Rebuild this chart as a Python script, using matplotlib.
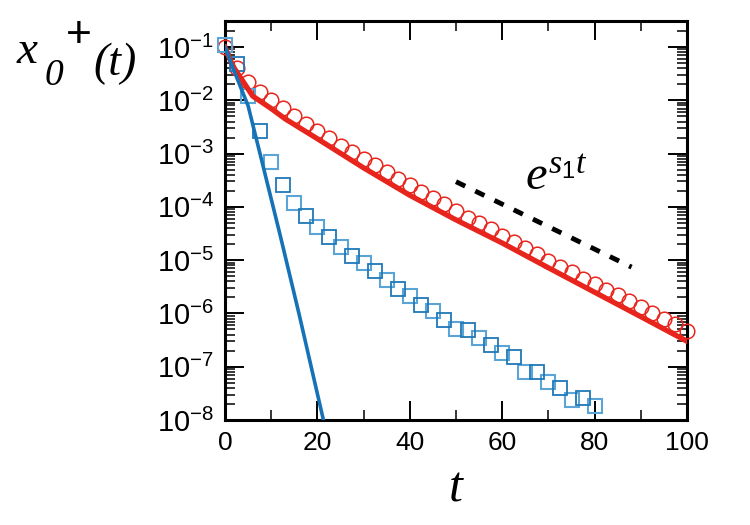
import numpy as np
import matplotlib
matplotlib.use("Agg")
import matplotlib.pyplot as plt
from matplotlib.ticker import LogLocator, MultipleLocator, FuncFormatter, NullFormatter

plt.rcParams['font.family'] = 'Liberation Sans'
plt.rcParams['mathtext.fontset'] = 'custom'
plt.rcParams['mathtext.rm'] = 'Liberation Sans'
plt.rcParams['mathtext.it'] = 'Liberation Serif:italic'

# ---------------- data ----------------
# red circles: simulation, t = 0 ... 100
t_circ = [0, 2.5, 5, 7.5, 10, 12.5, 15, 17.5, 20, 22.5, 25, 27.5, 30, 32.5, 35,
          37.5, 40, 42.5, 45, 47.5, 50, 52.5, 55, 57.5, 60, 62.5, 65, 67.5, 70,
          72.5, 75, 77.5, 80, 82.5, 85, 87.5, 90, 92.5, 95, 97.5, 100]
x_circ = [1.0e-1, 4.0e-2, 2.2e-2, 1.45e-2, 1.02e-2, 7.1e-3, 5.1e-3, 3.6e-3,
          2.6e-3, 1.94e-3, 1.41e-3, 1.05e-3, 7.8e-4, 6.1e-4, 4.6e-4, 3.3e-4,
          2.6e-4, 1.94e-4, 1.45e-4, 1.13e-4, 8.5e-5, 6.3e-5, 4.9e-5, 3.8e-5,
          2.8e-5, 2.2e-5, 1.67e-5, 1.29e-5, 9.6e-6, 7.4e-6, 5.9e-6, 4.5e-6,
          3.5e-6, 2.7e-6, 2.2e-6, 1.7e-6, 1.33e-6, 1.0e-6, 7.8e-7, 6.2e-7, 4.7e-7]

# red line: theory
t_red = [0, 1, 2, 4, 6, 10, 13, 20, 30, 40, 50, 60, 70, 80, 90, 100]
x_red = [1.0e-1, 6.0e-2, 4.0e-2, 2.2e-2, 1.2e-2, 7.0e-3, 4.5e-3, 1.9e-3,
         5.4e-4, 1.65e-4, 5.7e-5, 2.1e-5, 7.2e-6, 2.5e-6, 8.7e-7, 3.0e-7]

# blue squares: simulation, t = 0 ... 80 (two shades)
t_sq_light = [0, 5, 10, 15, 20, 25, 30, 35, 40, 45, 50, 55, 60, 65, 70, 75, 80]
x_sq_light = [1.1e-1, 1.2e-2, 7.1e-4, 1.2e-4, 4.2e-5, 1.8e-5, 8.7e-6, 4.2e-6,
              2.1e-6, 1.12e-6, 5.1e-7, 3.4e-7, 1.8e-7, 8.1e-8, 5.2e-8, 2.4e-8, 1.8e-8]
t_sq_dark = [2.5, 7.5, 12.5, 17.5, 22.5, 27.5, 32.5, 37.5, 42.5, 47.5, 52.5,
             57.5, 62.5, 67.5, 72.5, 77.5]
x_sq_dark = [4.9e-2, 2.7e-3, 2.6e-4, 6.8e-5, 2.7e-5, 1.2e-5, 6.3e-6, 2.9e-6,
             1.45e-6, 7.6e-7, 4.8e-7, 2.6e-7, 1.5e-7, 7.8e-8, 4.0e-8, 2.6e-8]

# blue line: theory
t_blue = [0, 2, 5, 8, 12, 16, 21.3]
x_blue = [1.0e-1, 3.5e-2, 7.9e-3, 7.1e-4, 2.8e-5, 1.0e-6, 1.0e-8]

# dashed guide e^{s1 t}
t_guide = [50, 88]
x_guide = [2.97e-4, 7.4e-6]

red = '#e8251c'
blue_line = '#1672b6'
blue_light = '#5ba4d6'
blue_dark = '#1f78b8'

# ---------------- figure ----------------
fig = plt.figure(figsize=(7.5, 5.25), dpi=100)
ax = fig.add_axes([0.30, 0.20, 0.616, 0.76])

ax.plot(t_circ, x_circ, 'o', ms=10.5, mfc='none', mec=red, mew=1.1, clip_on=False, zorder=3)
ax.plot(t_sq_light, x_sq_light, 's', ms=10.5, mfc='none', mec=blue_light, mew=1.5, clip_on=False, zorder=3)
ax.plot(t_sq_dark, x_sq_dark, 's', ms=10.5, mfc='none', mec=blue_dark, mew=1.3, clip_on=False, zorder=3)
ax.plot(t_red, x_red, '-', color=red, lw=3.8, zorder=4)
ax.plot(t_blue, x_blue, '-', color=blue_line, lw=2.6, zorder=5)
ax.plot(t_guide, x_guide, color='black', lw=3.5, dashes=(2.1, 2.3), zorder=4)

ax.text(65.0, 2.2e-4, r'$\mathit{e^{s_1 t}}$', fontsize=35, va='baseline')

ax.set_yscale('log')
ax.set_xlim(0, 100)
ax.set_ylim(1e-8, 0.308)

ax.xaxis.set_major_locator(MultipleLocator(20))
ax.xaxis.set_minor_locator(MultipleLocator(10))
ax.yaxis.set_major_locator(LogLocator(base=10, numticks=20))
ax.yaxis.set_minor_locator(LogLocator(base=10, subs=np.arange(2, 10), numticks=20))
ax.yaxis.set_major_formatter(FuncFormatter(lambda v, p: r'$\mathregular{10^{%d}}$' % round(np.log10(v))))
ax.yaxis.set_minor_formatter(NullFormatter())

ax.tick_params(which='both', direction='in', top=True, right=True)
ax.tick_params(which='major', length=14, width=1.4)
ax.tick_params(which='minor', length=7, width=1.1)
ax.tick_params(axis='x', labelsize=19, pad=8)
ax.tick_params(axis='y', labelsize=21, pad=8)

for s in ax.spines.values():
    s.set_linewidth(2.2)

ax.set_xlabel('t', fontsize=36, family='Liberation Serif', style='italic', labelpad=8)

# y label  x_0^+(t)
fig.text(0.022, 0.880, 'x', fontsize=34, family='Liberation Serif', style='italic', va='baseline')
fig.text(0.060, 0.838, '0', fontsize=27, family='Liberation Serif', style='italic', va='baseline')
fig.text(0.105, 0.933, '+', fontsize=32, family='Liberation Sans', ha='center', va='center')
fig.text(0.124, 0.857, '(t)', fontsize=33, family='Liberation Serif', style='italic', va='baseline')

fig.savefig('out.png', dpi=100)
